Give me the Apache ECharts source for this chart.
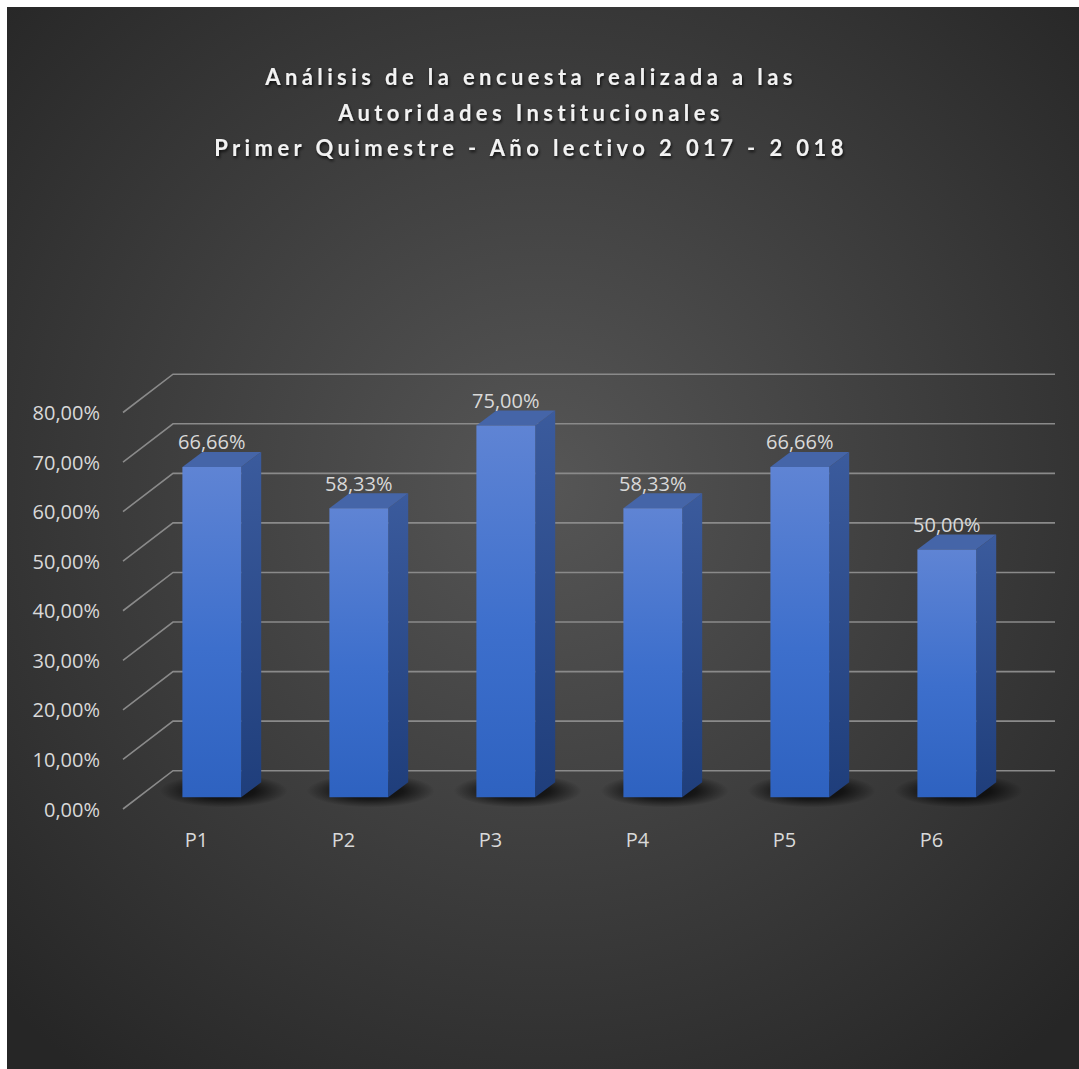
<!DOCTYPE html>
<html>
<head>
<meta charset="utf-8">
<script src="https://cdn.jsdelivr.net/npm/echarts@6.0.0/dist/echarts.min.js"></script>
<style>
  html, body { margin: 0; padding: 0; background: #ffffff; overflow: hidden; }
  #c { position: absolute; left: 7px; top: 7px; width: 1072px; height: 1062px; }
  #c text[style*="Lato"] { letter-spacing: 4.4px; }
</style>
</head>
<body>
<div id="c"></div>
<script>
// ---- data ----
const titleLines = [
  'Análisis de la encuesta realizada a las',
  'Autoridades Institucionales',
  'Primer Quimestre - Año lectivo 2 017 - 2 018'
];
const categories = ['P1', 'P2', 'P3', 'P4', 'P5', 'P6'];
const values = [66.66, 58.33, 75.00, 58.33, 66.66, 50.00];
const yTicks = [0, 10, 20, 30, 40, 50, 60, 70, 80];

function pct(v) { return v.toFixed(2).replace('.', ',') + '%'; }

// 3D geometry (pixels)
const FLOOR_DX = 50, FLOOR_DY = -38.3;   // front plane -> back plane
const PLANE_DX = 15.3, PLANE_DY = -11.7; // front plane -> bar front face
const BAR_DX = 20, BAR_DY = -15;         // bar depth

const chart = echarts.init(document.getElementById('c'), null, { renderer: 'svg' });

function renderGrid(params, api) {
  const v = api.value(1);
  const cs = params.coordSys;
  const p = api.coord([0, v]);
  const y = p[1];
  const x0 = cs.x, x1 = cs.x + cs.width;
  return {
    type: 'polyline',
    shape: { points: [[x0, y], [x0 + FLOOR_DX, y + FLOOR_DY], [x1 + FLOOR_DX, y + FLOOR_DY]] },
    style: { stroke: '#8a8a8a', lineWidth: 1.6, fill: null },
    silent: true
  };
}

function renderBar(params, api) {
  const ci = api.value(0), v = api.value(1);
  const base = api.coord([ci, 0]);
  const top = api.coord([ci, v]);
  const band = api.size([1, 0])[0];
  const w = band * 0.4;
  const xL = base[0] + PLANE_DX - w / 2, xR = xL + w;
  const yB = base[1] + PLANE_DY, yT = top[1] + PLANE_DY;
  const shCx = xL + w / 2 + BAR_DX / 2 + 2;
  const shCy = yB + BAR_DY / 2 + 1;
  return {
    type: 'group',
    children: [
      {
        type: 'circle',
        x: shCx,
        y: shCy,
        scaleY: 0.26,
        shape: { cx: 0, cy: 0, r: 64 },
        style: { fill: new echarts.graphic.RadialGradient(0.5, 0.5, 0.5, [
          { offset: 0, color: 'rgba(0,0,0,0.9)' },
          { offset: 0.5, color: 'rgba(0,0,0,0.65)' },
          { offset: 1, color: 'rgba(0,0,0,0)' }]) },
        silent: true
      },
      {
        type: 'polygon',
        shape: { points: [[xR, yT], [xR + BAR_DX, yT + BAR_DY], [xR + BAR_DX, yB + BAR_DY], [xR, yB]] },
        style: { fill: new echarts.graphic.LinearGradient(0, 0, 0, 1, [
          { offset: 0, color: '#3b5b9d' }, { offset: 1, color: '#1f3e7b' }]) }
      },
      {
        type: 'polygon',
        shape: { points: [[xL, yT], [xL + BAR_DX, yT + BAR_DY], [xR + BAR_DX, yT + BAR_DY], [xR, yT]] },
        style: { fill: '#4565a8' }
      },
      {
        type: 'rect',
        shape: { x: xL, y: yT, width: w, height: yB - yT },
        style: { fill: new echarts.graphic.LinearGradient(0, 0, 0, 1, [
          { offset: 0, color: '#5f84d4' }, { offset: 0.55, color: '#3d6fcc' }, { offset: 1, color: '#2e62c0' }]) }
      },
      {
        type: 'text',
        style: {
          text: pct(v),
          x: xL + w / 2,
          y: yT + BAR_DY - 10,
          align: 'center',
          verticalAlign: 'middle',
          fill: '#d9d9d9',
          font: '20px "Open Sans"'
        },
        silent: true
      }
    ]
  };
}

const option = {
  backgroundColor: new echarts.graphic.RadialGradient(0.5, 0.45, 0.7, [
    { offset: 0, color: '#565656' },
    { offset: 1, color: '#262626' }
  ]),
  animation: false,
  title: {
    text: titleLines.join('\n'),
    left: 519,
    top: 47,
    textAlign: 'center',
    textStyle: {
      fontFamily: 'Lato',
      fontWeight: 'bold',
      fontSize: 22,
      lineHeight: 35.5,
      color: '#f2f2f2',
      textShadowColor: 'rgba(0,0,0,0.75)',
      textShadowBlur: 3,
      textShadowOffsetX: 1,
      textShadowOffsetY: 2
    }
  },
  grid: { left: 116, right: 74, top: 405.5, bottom: 260, containLabel: false },
  xAxis: {
    type: 'category',
    data: categories,
    axisLine: { show: false },
    axisTick: { show: false },
    splitLine: { show: false },
    axisLabel: { color: '#d9d9d9', fontSize: 20, fontFamily: 'Open Sans', margin: 20 }
  },
  yAxis: {
    type: 'value',
    min: 0,
    max: 80,
    interval: 10,
    axisLine: { show: false },
    axisTick: { show: false },
    splitLine: { show: false },
    axisLabel: { color: '#d9d9d9', fontSize: 20, fontFamily: 'Open Sans', margin: 23, formatter: pct }
  },
  series: [
    {
      type: 'custom',
      name: 'grid',
      z: 1,
      clip: false,
      renderItem: renderGrid,
      data: yTicks.map(v => [0, v]),
      silent: true
    },
    {
      type: 'custom',
      name: 'Serie',
      z: 3,
      clip: false,
      renderItem: renderBar,
      data: values.map((v, i) => [i, v])
    }
  ]
};
chart.setOption(option);
</script>
</body>
</html>
